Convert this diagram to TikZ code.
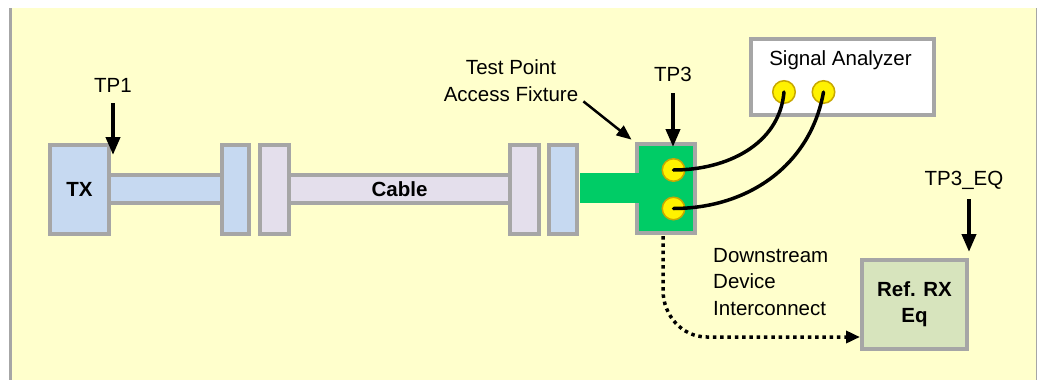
\documentclass[tikz,border=0pt]{standalone}
\usepackage{fontspec}
\setmainfont{Liberation Sans}
\usetikzlibrary{arrows.meta}
\definecolor{bgyellow}{HTML}{FFFFCC}
\definecolor{edgegray}{HTML}{A6A6A6}
\definecolor{partblue}{HTML}{C6D9F1}
\definecolor{partlilac}{HTML}{E4DFEC}
\definecolor{fixgreen}{HTML}{00CC66}
\definecolor{rxgreen}{HTML}{D7E4BD}
\definecolor{jackrim}{HTML}{C8A800}
\begin{document}
\begin{tikzpicture}[x=1pt,y=-1pt,
  part/.style={draw=edgegray,line width=4pt,inner sep=0pt,outer sep=0pt,
    font=\bfseries\fontsize{20.5}{26}\selectfont},
  plug/.style={part,minimum width=#1,minimum height=89pt},
  lbl/.style={font=\fontsize{20.5}{26.5}\selectfont,inner sep=0pt,anchor=base},
  tparrow/.style={line width=4pt,-{Triangle[length=18pt,width=14pt]}},
  jack/.style={circle,fill=yellow,draw=jackrim,line width=1.5pt,minimum size=22.5pt,inner sep=0pt},
  lead/.style={line width=3.5pt,line cap=round}]
  \useasboundingbox (0,0) rectangle (1037,381);
  \fill[bgyellow] (10,8) rectangle (1036,380);
  \draw[edgegray,line width=2.5pt] (10.5,8) -- (10.5,380);
  \draw[edgegray,line width=1pt] (1036,8) -- (1036,380);
  \node[part,fill=partblue,minimum width=113pt,minimum height=28pt] (txlink) at (165.5,189) {};
  \node[part,fill=partlilac,minimum width=221pt,minimum height=28pt] (cable) at (399.5,189) {Cable};
  \node[part,fill=partblue,minimum width=59pt,minimum height=89pt] (tx) at (79.5,189.5) {TX};
  \node[plug=27pt,fill=partblue] (plug1) at (235.5,189.5) {};
  \node[plug=29pt,fill=partlilac] (plug2) at (274.5,189.5) {};
  \node[plug=29pt,fill=partlilac] (plug3) at (524.5,189.5) {};
  \node[plug=28pt,fill=partblue] (plug4) at (563,189.5) {};
  \node[plug=58pt,fill=fixgreen] (fix) at (666,188.5) {};
  \node[fill=fixgreen,inner sep=0pt,minimum width=59pt,minimum height=30pt] (stub) at (609.5,188) {};
  \node[jack] (j1) at (673.5,170) {};
  \node[jack] (j2) at (673.5,208.5) {};
  \node[part,fill=white,minimum width=183pt,minimum height=76pt] (sa) at (842.5,77) {};
  \node[lbl] (satext) at (840.5,65) {Signal Analyzer};
  \node[jack] (a1) at (784,92) {};
  \node[jack] (a2) at (823.5,92) {};
  \draw[lead] (j1.center) to[out=0,in=-95] (a1.center);
  \draw[lead] (j2.center) to[out=0,in=-100] (a2.center);
  \node[part,fill=rxgreen,minimum width=105pt,minimum height=89pt,align=center] (rx) at (914.5,304.5) {Ref. RX\\Eq};
  \node[lbl] (tp1) at (113,92) {TP1};
  \node[lbl] (tp3) at (673,81) {TP3};
  \node[lbl] (tp3eq) at (964,185) {TP3\_EQ};
  \node[lbl,align=center] (tpaf) at (511,101) {Test Point\\Access Fixture};
  \node[lbl,align=left,anchor=base west] (ddi) at (713,315) {Downstream\\Device\\Interconnect};
  \draw[tparrow,shorten <=11pt,shorten >=-10pt] (tp1.south) -- (tp1.south |- tx.north);
  \draw[tparrow,shorten <=12pt,shorten >=-3pt] (tp3.south) -- (tp3.south |- fix.north);
  \draw[tparrow,shorten <=10pt] ([xshift=5pt]tp3eq.south) -- ([xshift=2pt,yshift=8pt]rx.north east);
  \draw[line width=2.5pt,-{Triangle[length=15pt,width=12pt]},shorten >=7pt] ([xshift=5pt]tpaf.south east) -- (fix.north west);
  \draw[line width=3.5pt,dash pattern=on 3.5pt off 3.8pt,shorten <=3pt,-{Triangle[length=14pt,width=12pt]}]
    ([xshift=-3pt]fix.south) -- ++(0,57) to[out=-90,in=180] ++(44,47) -- ([xshift=-2pt,yshift=12pt]rx.south west);
\end{tikzpicture}
\end{document}
